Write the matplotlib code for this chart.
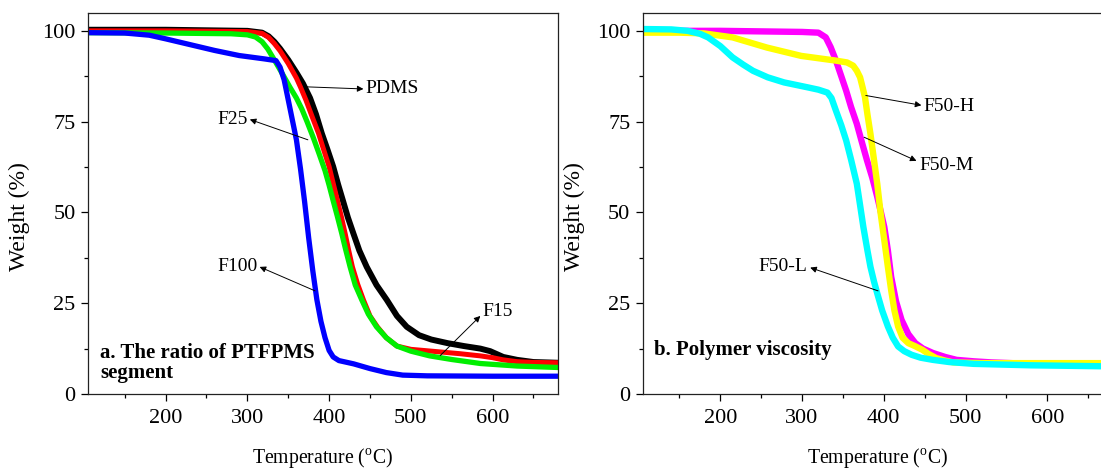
import numpy as np
import matplotlib.pyplot as plt
from matplotlib.ticker import MultipleLocator

plt.rcParams['font.family'] = ['Liberation Serif', 'DejaVu Serif']
plt.rcParams['mathtext.fontset'] = 'custom'
plt.rcParams['mathtext.rm'] = 'Liberation Serif'

# ---- panel a: ratio of PTFPMS segment ----
t_pdms = [105, 200, 300, 318, 326, 333, 340, 350, 360, 368, 376.7, 384, 391, 398, 405, 411,
          416.7, 423, 429.7, 437, 446, 458, 470.6, 483, 495, 510, 525, 545, 565, 585, 597,
          605, 613, 630, 650, 680]
w_pdms = [100.3, 100.3, 100, 99.5, 98.5, 97, 95.1, 92, 88.5, 85.5, 81.5, 77, 71.8, 67.3, 62.6,
          57.7, 53.4, 48.6, 44.2, 39.5, 35, 30, 25.9, 21.5, 18.5, 16.2, 15, 14, 13.2, 12.5, 11.8,
          11, 10.2, 9.4, 8.8, 8.6]

t_f15 = [105, 200, 300, 318, 326, 333, 340, 350, 360, 365, 371.7, 379, 387, 393, 400, 405, 410,
         415, 419.6, 424, 428.5, 435, 442, 450, 459, 470, 483, 500, 520, 540, 560, 585, 600,
         613, 630, 650, 680]
w_f15 = [100, 100, 99.8, 99.3, 98.2, 96.5, 94.5, 91, 87, 84.5, 80.9, 76.5, 71.8, 67.5, 62.6, 58,
         53.4, 48.8, 44.2, 39.5, 35, 30.2, 25.9, 21.5, 18.5, 15.5, 13.2, 12.3, 11.9, 11.5, 11.1,
         10.5, 10, 9.4, 8.9, 8.7, 8.6]

t_f25 = [105, 200, 280, 300, 310, 318, 325, 333, 342, 352, 360, 366.6, 373, 380.8, 388, 395, 400,
         405, 410, 415.5, 420, 425.7, 432, 440, 448, 458, 470, 483, 500, 523, 550, 585, 630, 680]
w_f25 = [99.5, 99.4, 99.2, 98.9, 98.3, 97, 95, 92, 88.5, 84.5, 81.5, 78.5, 75, 70.5, 66, 61.5,
         57.5, 53.2, 49, 44.2, 40, 35, 30, 25.9, 22, 18.5, 15.5, 13.2, 11.8, 10.5, 9.5, 8.4, 7.7,
         7.3]

t_f100 = [105, 150, 180, 200, 230, 260, 290, 320, 335, 340, 345, 350, 355, 360, 365, 370, 375,
          380, 385, 390, 395, 400, 405, 412, 430, 450, 470, 490, 520, 600, 680]
w_f100 = [99.5, 99.4, 98.8, 97.8, 96.2, 94.6, 93.2, 92.3, 91.8, 90, 86.5, 81, 75.5, 70, 62, 53,
          43, 34, 26, 20, 15.5, 12, 10.2, 9.2, 8.3, 7.0, 5.9, 5.2, 5.0, 4.9, 4.9]

# ---- panel b: polymer viscosity ----
t_h = [105, 150, 180, 215, 257, 299, 341.5, 355, 362.6, 367, 371, 374, 377, 380, 383.7, 388, 392,
       396, 400.6, 405, 409, 413, 417.5, 423, 430, 438, 447, 455, 464, 475, 485, 520, 680]
w_h = [99.5, 99.5, 99.3, 98.2, 95.4, 93.1, 91.8, 91.3, 90.4, 89, 87.2, 84.5, 81.7, 77, 71.6,
       64.5, 57.9, 50, 42.4, 35, 28.6, 23, 18.6, 15.5, 14, 13.2, 12.2, 11, 9.9, 9.2, 8.7, 8.5, 8.5]

t_m = [105, 200, 300, 320, 329, 335, 341.5, 348, 354, 360, 367, 373, 379.5, 386, 392, 396, 400.6,
       405, 409, 415, 421.7, 430, 438.6, 448, 460, 475, 489, 510, 531.6, 580, 680]
w_m = [100, 100, 99.7, 99.5, 98.2, 95.5, 91.8, 87.5, 83.5, 79, 74.4, 69.5, 64.3, 59.5, 54.3, 50.5,
       46, 39.5, 32.3, 25.5, 20.4, 16.5, 14, 12.5, 11.3, 10.2, 9.4, 9.0, 8.7, 8.3, 8.0]

t_l = [105, 140, 160, 175, 185, 200, 215, 228, 240, 258, 278, 295, 307.7, 320, 331, 336, 341.5,
       348, 354, 360, 367, 371, 375, 380, 383.7, 388, 392, 398, 405, 411, 417.5, 425, 434, 445,
       460, 480, 510, 580, 680]
w_l = [100.5, 100.4, 100, 99.2, 98.2, 95.8, 92.7, 90.7, 89, 87.2, 85.8, 85, 84.4, 83.8, 83, 81.5,
       78, 74, 69.8, 64.5, 57.9, 52, 46, 39.5, 35, 31, 27.7, 23, 18.6, 15.5, 13.1, 11.8, 10.8, 10,
       9.4, 8.8, 8.3, 7.9, 7.6]

fig = plt.figure(figsize=(11.01, 4.70), dpi=100)
ax1 = fig.add_axes([0.0799, 0.1617, 0.4269, 0.8113])
ax2 = fig.add_axes([0.5837, 0.1617, 0.4269, 0.8113])

ax1.plot(t_pdms, w_pdms, color='black', lw=4.3, solid_joinstyle='round')
ax1.plot(t_f15, w_f15, color='#ff0000', lw=3.6, solid_joinstyle='round')
ax1.plot(t_f25, w_f25, color='#00ee00', lw=3.8, solid_joinstyle='round')
ax1.plot(t_f100, w_f100, color='#0000ff', lw=3.8, solid_joinstyle='round')

ax2.plot(t_m, w_m, color='#ff00ff', lw=4.6, solid_joinstyle='round')
ax2.plot(t_h, w_h, color='#ffff00', lw=4.6, solid_joinstyle='round')
ax2.plot(t_l, w_l, color='#00ffff', lw=4.6, solid_joinstyle='round')

arrow = dict(arrowstyle='-|>', color='black', lw=0.7, mutation_scale=9, shrinkA=0, shrinkB=0)

def label(ax, text, tail, tip, pos, ha):
    ax.annotate('', xy=tip, xytext=tail, arrowprops=arrow)
    ax.text(pos[0], pos[1], text, ha=ha, va='center', fontsize=14)

label(ax1, 'PDMS', (370, 84.6), (442, 84.0), (444, 84.0), 'left')
label(ax1, 'F25', (374, 70.0), (303, 75.6), (300, 75.6), 'right')
label(ax1, 'F100', (382.8, 28.4), (315, 35.0), (312, 35.0), 'right')
label(ax1, 'F15', (536, 10.6), (585, 21.5), (588, 22.6), 'left')

label(ax2, 'F50-H', (378, 82.2), (446, 79.5), (449, 79.3), 'left')
label(ax2, 'F50-M', (376, 70.7), (440, 64.2), (443, 62.8), 'left')
label(ax2, 'F50-L', (393, 28.4), (310, 34.8), (306, 35.0), 'right')

ax1.text(120, 8.5, 'a. The ratio of PTFPMS\nsegment', fontsize=15, fontweight='bold',
         ha='left', va='center', linespacing=1.0)
ax2.text(119, 12, 'b. Polymer viscosity', fontsize=15, fontweight='bold',
         ha='left', va='center')

for ax in (ax1, ax2):
    ax.set_xlim(105, 680)
    ax.set_ylim(0, 105)
    ax.xaxis.set_major_locator(MultipleLocator(100))
    ax.xaxis.set_minor_locator(MultipleLocator(50))
    ax.yaxis.set_major_locator(MultipleLocator(25))
    ax.yaxis.set_minor_locator(MultipleLocator(12.5))
    ax.tick_params(which='major', direction='out', length=4.8, width=0.9, labelsize=16, pad=4)
    ax.tick_params(axis='x', which='major', pad=6)
    ax.tick_params(which='minor', direction='out', length=3, width=0.9)
    ax.tick_params(top=False, right=False, which='both')
    for s in ax.spines.values():
        s.set_linewidth(0.9)
        s.set_color('#222222')
    ax.set_xlabel('Temperature ($^{\\mathregular{o}}$C)', fontsize=14.2)
    ax.set_ylabel('Weight (%)', fontsize=17)
    ax.xaxis.set_label_coords(0.5, -0.168)
    ax.xaxis.label.set_va('center')
    ax.yaxis.set_label_coords(-0.145, 0.465)
    ax.yaxis.label.set_va('center')

fig.savefig('out.png', dpi=100)
